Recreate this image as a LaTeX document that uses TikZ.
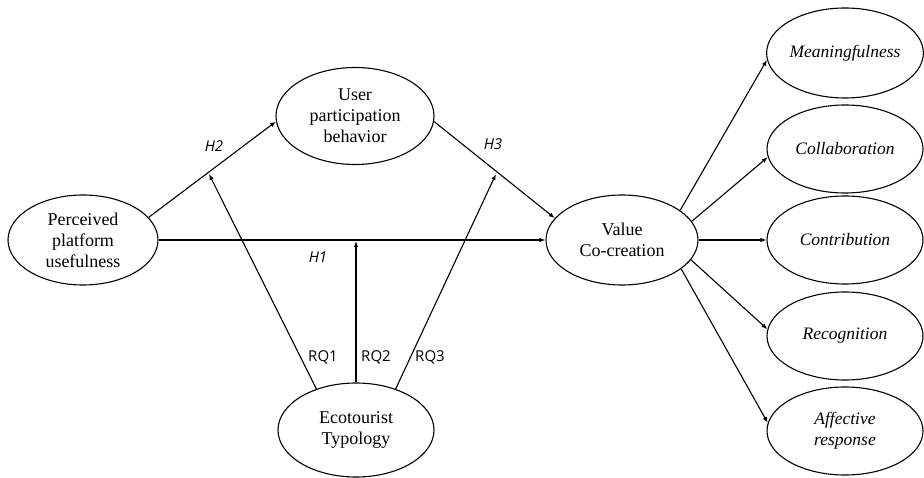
\documentclass[tikz,border=0pt]{standalone}
\usepackage{fontspec}
\setmainfont{Liberation Serif}
\newfontfamily\labfont{Open Sans}
\usetikzlibrary{shapes.geometric,arrows.meta}
\tikzset{
  construct/.style={ellipse,draw,line width=1.1pt,inner sep=0pt,align=center,
    font=\fontsize{18}{21}\selectfont},
  dim/.style={construct,font=\fontsize{17.5}{21}\selectfont\itshape},
  arr/.style={line width=1.1pt,-{Latex[length=6pt,width=4.5pt]}},
  hlab/.style={font=\labfont\fontsize{15}{18}\selectfont\itshape},
  rqlab/.style={font=\labfont\fontsize{15}{18}\selectfont},
}
\begin{document}
\begin{tikzpicture}[x=1pt,y=-1pt]
\useasboundingbox (0,0) rectangle (924,478);
\node[construct,minimum width=150pt,minimum height=90pt] (P) at (83,240) {Perceived\\platform\\usefulness};
\node[construct,minimum width=158pt,minimum height=97pt] (U) at (355,116) {User\\participation\\behavior};
\node[construct,minimum width=152pt,minimum height=90pt] (V) at (622,240) {Value\\Co-creation};
\node[construct,minimum width=156pt,minimum height=94pt] (E) at (356,430) {Ecotourist\\Typology};
\node[dim,minimum width=156pt,minimum height=90pt] (M) at (845,53) {Meaningfulness};
\node[dim,minimum width=156pt,minimum height=88pt] (C) at (845,149) {Collaboration};
\node[dim,minimum width=156pt,minimum height=88pt] (Co) at (845,240) {Contribution};
\node[dim,minimum width=156pt,minimum height=88pt] (R) at (845,336) {Recognition};
\node[dim,minimum width=156pt,minimum height=88pt] (A) at (845,431) {Affective\\response};

\coordinate (c1) at (209,174);
\coordinate (c2) at (356,241);
\coordinate (c3) at (496,174);

\draw[arr] (P.19) -- (U.184);
\draw[arr] (U.356) -- (V.162);
\draw[arr] (P.east) -- (V.west);
\draw[arr] (E.134) -- (c1);
\draw[arr] (E.north) -- (c2);
\draw[arr] (E.46) -- (c3);

\draw[arr] (V.27) -- (M.185);
\draw[arr] (V.15) -- (C.186);
\draw[arr] (V.east) -- (Co.west);
\draw[arr] (V.344) -- (R.175);
\draw[arr] (V.334) -- (A.174);

\node[hlab] (h2) at (214,146) {H2};
\node[hlab] (h3) at (493,144) {H3};
\node[hlab] (h1) at (318,257) {H1};
\node[rqlab] (rq1) at (323,357) {RQ1};
\node[rqlab] (rq2) at (376,357) {RQ2};
\node[rqlab] (rq3) at (430,357) {RQ3};
\end{tikzpicture}
\end{document}
